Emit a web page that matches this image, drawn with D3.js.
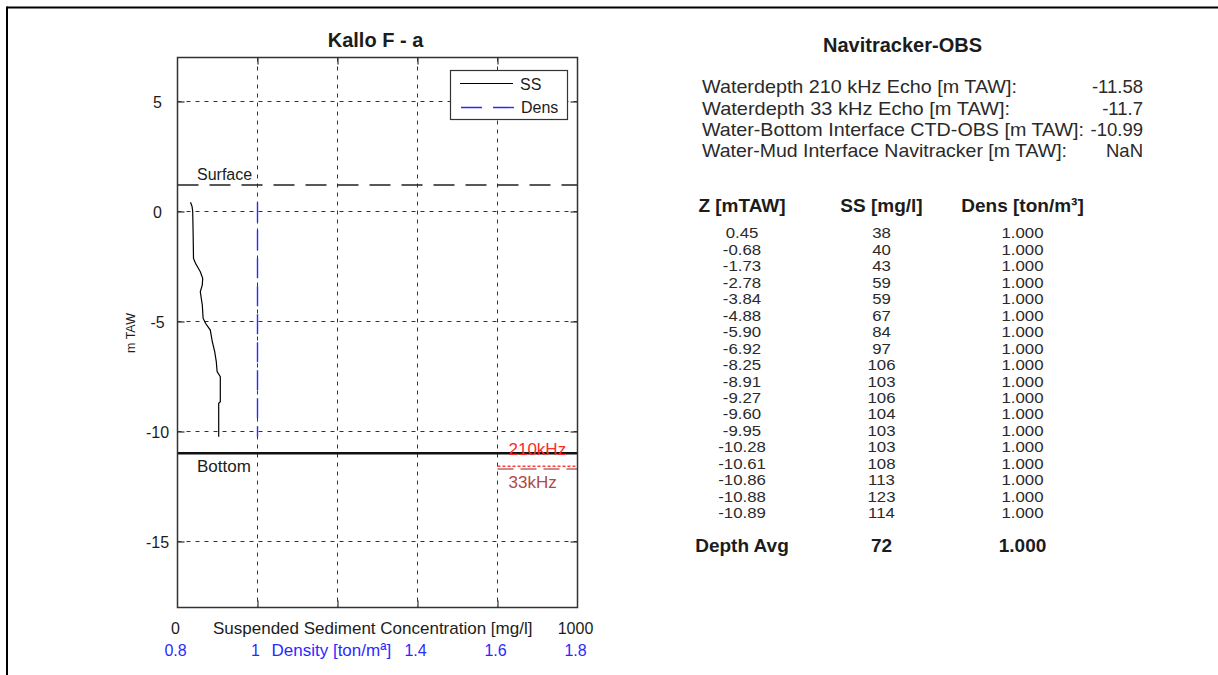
<!DOCTYPE html>
<html>
<head>
<meta charset="utf-8">
<script src="https://cdn.jsdelivr.net/npm/d3@7"></script>
<style>
  html, body { margin: 0; padding: 0; background: #fff; }
  svg { display: block; font-family: "Liberation Sans", Arial, sans-serif; }
</style>
</head>
<body>
<svg id="chart" width="1218" height="675"></svg>
<script>
// ---- Profile measured at the station (depth in m TAW) ----
const profileDepth = [0.42, 0.22, 0, -0.92, -2.13, -2.35, -2.74, -3.04, -3.34, -3.65, -4.25,
                      -4.85, -5.08, -5.39, -5.92, -6.37, -6.83, -7.28, -7.51, -8.65, -8.72, -10.24];
const profileSS    = [32.5, 36.5, 38, 39, 40, 45, 57, 63, 62, 57, 62,
                      64, 70, 82, 87, 93, 97, 99, 107, 107, 103, 103];
const profileDens  = [1.000, 1.000, 1.000, 1.000, 1.000, 1.000, 1.000, 1.000, 1.000, 1.000, 1.000,
                      1.000, 1.000, 1.000, 1.000, 1.000, 1.000, 1.000, 1.000, 1.000, 1.000, 1.000];

// ---- Axes ----
const depthTicks     = [5, 0, -5, -10, -15];
const ssGridTicks    = [200, 400, 600, 800];
const ssTickLabels   = [0, 1000];
const densTickLabels = [0.8, 1, 1.4, 1.6, 1.8];

// ---- Reference levels ----
const surfaceLevel = 1.2;
const infoLabels = [
  "Waterdepth 210 kHz Echo [m TAW]:",
  "Waterdepth 33 kHz Echo [m TAW]:",
  "Water-Bottom Interface CTD-OBS [m TAW]:",
  "Water-Mud Interface Navitracker [m TAW]:"
];
const infoValues = [-11.58, -11.7, -10.99, NaN];

// ---- Binned table ----
const tableZ    = [0.45, -0.68, -1.73, -2.78, -3.84, -4.88, -5.90, -6.92, -8.25, -8.91,
                   -9.27, -9.60, -9.95, -10.28, -10.61, -10.86, -10.88, -10.89];
const tableSS   = [38, 40, 43, 59, 59, 67, 84, 97, 106, 103, 106, 104, 103, 103, 108, 113, 123, 114];
const tableDens = [1.000, 1.000, 1.000, 1.000, 1.000, 1.000, 1.000, 1.000, 1.000, 1.000,
                   1.000, 1.000, 1.000, 1.000, 1.000, 1.000, 1.000, 1.000];
const avgSS = 72;
const avgDens = 1.000;

// ================= drawing =================
const svg = d3.select("#chart");
const ink = "#1c1c1c";
const blue = "#2a2aff";

// outer frame
svg.append("line").attr("x1", 7).attr("x2", 1218).attr("y1", 7.5).attr("y2", 7.5)
  .attr("stroke", "#000").attr("stroke-width", 2);
svg.append("line").attr("x1", 7).attr("x2", 7).attr("y1", 6.5).attr("y2", 675)
  .attr("stroke", "#000").attr("stroke-width", 2);

const L = 177.5, R = 577.5, T = 57.5, B = 607.5;
const y = d3.scaleLinear().domain([-18, 7]).range([B, T]);
const xSS = d3.scaleLinear().domain([0, 1000]).range([L, R]);
const xDens = d3.scaleLinear().domain([0.8, 1.8]).range([L, R]);

const plot = svg.append("g");

// title
plot.append("text").attr("x", (L + R) / 2 - 2).attr("y", 47)
  .attr("text-anchor", "middle").attr("font-weight", "bold").attr("font-size", 20)
  .attr("fill", ink).text("Kallo F - a");

// grid
plot.append("g").selectAll("line").data(depthTicks).join("line")
  .attr("x1", L).attr("x2", R).attr("y1", d => y(d)).attr("y2", d => y(d))
  .attr("stroke", "#333").attr("stroke-width", 1).attr("stroke-dasharray", "4,5");
plot.append("g").selectAll("line").data(ssGridTicks).join("line")
  .attr("x1", d => xSS(d)).attr("x2", d => xSS(d)).attr("y1", T).attr("y2", B)
  .attr("stroke", "#333").attr("stroke-width", 1).attr("stroke-dasharray", "4,5");

// inward tick marks on all four sides
const tick = 7;
const styleAxis = g => {
  g.select(".domain").remove();
  g.selectAll(".tick line").attr("stroke", "#333").attr("stroke-width", 1.2);
  g.selectAll(".tick text").remove();
};
plot.append("g").attr("transform", `translate(${L},0)`)
  .call(d3.axisLeft(y).tickValues(depthTicks).tickSize(-tick)).call(styleAxis);
plot.append("g").attr("transform", `translate(${R},0)`)
  .call(d3.axisRight(y).tickValues(depthTicks).tickSize(-tick)).call(styleAxis);
plot.append("g").attr("transform", `translate(0,${B})`)
  .call(d3.axisBottom(xSS).tickValues(ssGridTicks).tickSize(-tick)).call(styleAxis);
plot.append("g").attr("transform", `translate(0,${T})`)
  .call(d3.axisTop(xSS).tickValues(ssGridTicks).tickSize(-tick)).call(styleAxis);

// y tick labels
plot.append("g").selectAll("text").data(depthTicks).join("text")
  .attr("x", L - 20).attr("y", d => y(d) + 6)
  .attr("text-anchor", "middle").attr("font-size", 16).attr("fill", ink)
  .text(d => String(d));

// y axis label
plot.append("text")
  .attr("transform", `translate(135,333) rotate(-90)`)
  .attr("text-anchor", "middle").attr("font-size", 12.5).attr("fill", ink)
  .text("m TAW");

// reference level: surface
plot.append("line").attr("x1", L).attr("x2", R)
  .attr("y1", y(surfaceLevel)).attr("y2", y(surfaceLevel))
  .attr("stroke", "#222").attr("stroke-width", 1.5).attr("stroke-dasharray", "21,11");
plot.append("text").attr("x", L + 19.5).attr("y", y(surfaceLevel) - 5)
  .attr("font-size", 16).attr("fill", ink).text("Surface");

// reference level: water-bottom interface
const bottomLevel = infoValues[2];
plot.append("line").attr("x1", L).attr("x2", R)
  .attr("y1", y(bottomLevel)).attr("y2", y(bottomLevel))
  .attr("stroke", "#111").attr("stroke-width", 2.5);
plot.append("text").attr("x", L + 19.5).attr("y", y(bottomLevel) + 19)
  .attr("font-size", 17).attr("fill", ink).text("Bottom");

// echo sounder depths
const echo210 = infoValues[0], echo33 = infoValues[1];
plot.append("line").attr("x1", xSS(800)).attr("x2", R)
  .attr("y1", y(echo210)).attr("y2", y(echo210))
  .attr("stroke", "#ff4040").attr("stroke-width", 1.3).attr("stroke-dasharray", "3,2");
plot.append("line").attr("x1", xSS(800)).attr("x2", R)
  .attr("y1", y(echo33)).attr("y2", y(echo33))
  .attr("stroke", "#c06464").attr("stroke-width", 1.5).attr("stroke-dasharray", "16,7");
plot.append("text").attr("x", xSS(800) + 11).attr("y", y(echo210) - 11)
  .attr("font-size", 17).attr("fill", "#ff2a2a").text("210kHz");
plot.append("text").attr("x", xSS(800) + 11).attr("y", y(echo33) + 19)
  .attr("font-size", 17).attr("fill", "#b04848").text("33kHz");

// profiles
const pts = profileDepth.map((d, i) => ({ z: d, ss: profileSS[i], dens: profileDens[i] }));
plot.append("path").datum(pts)
  .attr("fill", "none").attr("stroke", blue).attr("stroke-width", 1.4)
  .attr("stroke-dasharray", "20,8")
  .attr("d", d3.line().x(d => xDens(d.dens)).y(d => y(d.z)));
plot.append("path").datum(pts)
  .attr("fill", "none").attr("stroke", "#000").attr("stroke-width", 1.2)
  .attr("d", d3.line().x(d => xSS(d.ss)).y(d => y(d.z)));

// axis box
plot.append("rect").attr("x", L).attr("y", T).attr("width", R - L).attr("height", B - T)
  .attr("fill", "none").attr("stroke", "#333").attr("stroke-width", 1.5);

// legend
const lg = plot.append("g");
lg.append("rect").attr("x", 450.5).attr("y", 70.5).attr("width", 117).attr("height", 49)
  .attr("fill", "#fff").attr("stroke", "#333").attr("stroke-width", 1.2);
lg.append("line").attr("x1", 460).attr("x2", 513).attr("y1", 83.5).attr("y2", 83.5)
  .attr("stroke", "#000").attr("stroke-width", 1.2);
lg.append("line").attr("x1", 461).attr("x2", 515).attr("y1", 107.5).attr("y2", 107.5)
  .attr("stroke", blue).attr("stroke-width", 1.4).attr("stroke-dasharray", "21,11");
lg.append("text").attr("x", 520).attr("y", 90).attr("font-size", 16).attr("fill", ink).text("SS");
lg.append("text").attr("x", 521).attr("y", 113).attr("font-size", 16).attr("fill", ink).text("Dens");

// x-axis labels (two stacked axes: SS and density)
plot.append("g").selectAll("text").data(ssTickLabels).join("text")
  .attr("x", d => xSS(d) - 2).attr("y", 633.5)
  .attr("text-anchor", "middle").attr("font-size", 16).attr("fill", ink)
  .text(d => String(d));
plot.append("text").attr("x", 213).attr("y", 633.5)
  .attr("font-size", 17).attr("fill", ink)
  .text("Suspended Sediment Concentration [mg/l]");
plot.append("g").selectAll("text").data(densTickLabels).join("text")
  .attr("x", d => xDens(d) - 2).attr("y", 655.5)
  .attr("text-anchor", "middle").attr("font-size", 16).attr("fill", blue)
  .text(d => String(d));
plot.append("text").attr("x", 271.5).attr("y", 655.5)
  .attr("font-size", 17).attr("fill", blue)
  .text("Density [ton/mª]");

// ================= summary panel =================
const panel = svg.append("g");
panel.append("text").attr("x", 902.5).attr("y", 51.5)
  .attr("text-anchor", "middle").attr("font-weight", "bold").attr("font-size", 20)
  .attr("fill", ink).text("Navitracker-OBS");

const infoWidths = [315, 308, 382, 365];
panel.append("g").selectAll("text").data(infoLabels).join("text")
  .attr("x", 702).attr("y", (d, i) => 93.3 + i * 21.3)
  .attr("font-size", 18.5).attr("fill", "#2a2a2a")
  .attr("textLength", (d, i) => infoWidths[i]).attr("lengthAdjust", "spacingAndGlyphs")
  .text(d => d);
panel.append("g").selectAll("text").data(infoValues).join("text")
  .attr("x", 1143).attr("y", (d, i) => 93.3 + i * 21.3)
  .attr("text-anchor", "end").attr("font-size", 18.5).attr("fill", "#2a2a2a")
  .text(d => String(d));

const colX = [742, 881.5, 1022.5];
const headers = ["Z [mTAW]", "SS [mg/l]", "Dens [ton/m³]"];
panel.append("g").selectAll("text").data(headers).join("text")
  .attr("x", (d, i) => colX[i]).attr("y", 211.7)
  .attr("text-anchor", "middle").attr("font-weight", "bold").attr("font-size", 19)
  .attr("fill", ink).text(d => d);

// table body: compact rows, glyphs widened horizontally
const rowStep = 16.47, rowScaleX = 1.2;
const rows = tableZ.map((z, i) => [z.toFixed(2), String(tableSS[i]), tableDens[i].toFixed(3)]);
const rowG = panel.append("g").selectAll("g").data(rows).join("g")
  .attr("transform", (d, i) => `translate(0,${238.3 + i * rowStep})`);
rowG.selectAll("text").data(d => d).join("text")
  .attr("transform", (d, i) => `translate(${colX[i]},0) scale(${rowScaleX},1)`)
  .attr("text-anchor", "middle").attr("font-size", 14).attr("fill", "#2a2a2a")
  .text(d => d);

const avgRow = ["Depth Avg", String(avgSS), avgDens.toFixed(3)];
panel.append("g").selectAll("text").data(avgRow).join("text")
  .attr("x", (d, i) => colX[i]).attr("y", 551.7)
  .attr("text-anchor", "middle").attr("font-weight", "bold").attr("font-size", 19)
  .attr("fill", ink).text(d => d);
</script>
</body>
</html>
